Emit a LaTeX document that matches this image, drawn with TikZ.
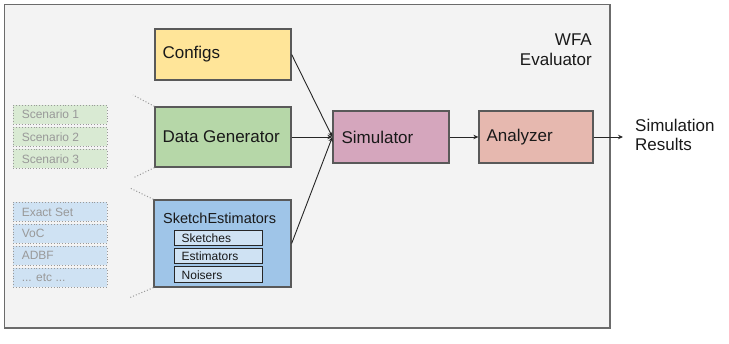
\documentclass[tikz,border=0pt]{standalone}
\usepackage{fontspec}
\setmainfont{Liberation Sans}
\usetikzlibrary{arrows.meta}
\definecolor{panelbg}{HTML}{F3F3F3}
\definecolor{framecol}{HTML}{6B6B6B}
\definecolor{boxline}{HTML}{595959}
\definecolor{cfgfill}{HTML}{FFE599}
\definecolor{genfill}{HTML}{B6D7A8}
\definecolor{skfill}{HTML}{9FC5E8}
\definecolor{simfill}{HTML}{D5A6BD}
\definecolor{anafill}{HTML}{E6B8AF}
\definecolor{scenfill}{HTML}{D9EAD3}
\definecolor{algfill}{HTML}{CFE2F3}
\definecolor{fadetext}{HTML}{999999}
\definecolor{dotcol}{HTML}{999999}
\tikzset{
  mainbox/.style={draw=boxline, line width=1.3pt, rectangle, inner sep=0pt},
  subbox/.style={draw=black!85, line width=1pt, fill=algfill, rectangle, inner sep=0pt,
                 minimum width=88pt},
  optbox/.style={draw=dotcol, dotted, line width=0.9pt, rectangle, inner sep=0pt,
                 minimum width=94pt, minimum height=19pt},
  biglabel/.style={font=\fontsize{17}{19.5}\selectfont, text=black!90, inner sep=0pt},
  midlabel/.style={font=\fontsize{14.5}{17}\selectfont, text=black!90, inner sep=0pt},
  smalllabel/.style={font=\fontsize{12}{14}\selectfont, text=black!90, inner sep=0pt},
  fadelabel/.style={font=\fontsize{12}{14}\selectfont, text=fadetext, inner sep=0pt},
  flow/.style={draw=black!85, line width=0.9pt, -{Stealth[length=5pt,width=4.5pt]}},
  hint/.style={draw=dotcol, dotted, line width=1pt},
}
\begin{document}
\begin{tikzpicture}[x=1pt,y=-1pt]
\useasboundingbox (0,0) rectangle (729,344);

% evaluator panel
\draw[framecol, line width=1.5pt, fill=panelbg] (4.5,4.5) rectangle (610,328);
\node[biglabel, align=right, anchor=east] (wfa) at (592,49.5) {WFA\\Evaluator};

% main components
\node[mainbox, fill=cfgfill, minimum width=136pt, minimum height=51pt] (cfg) at (223,54.5) {};
\node[biglabel, anchor=west] (cfgt) at ([xshift=8pt]cfg.west) {Configs};

\node[mainbox, fill=genfill, minimum width=136pt, minimum height=60pt] (gen) at (223,137) {};
\node[biglabel, anchor=west] (gent) at ([xshift=8pt]gen.west) {Data Generator};

\node[mainbox, fill=skfill, minimum width=137pt, minimum height=87pt] (sk) at (222.5,243.5) {};
\node[midlabel, anchor=west] (skt) at (163,218) {SketchEstimators};
\node[subbox, minimum height=15pt] (sketches) at (218,238.5) {};
\node[smalllabel, anchor=west] (sketchest) at ([xshift=8pt]sketches.west) {Sketches};
\node[subbox, minimum height=15pt] (estim) at (218,256.5) {};
\node[smalllabel, anchor=west] (estimt) at ([xshift=8pt]estim.west) {Estimators};
\node[subbox, minimum height=16pt] (noise) at (218,275) {};
\node[smalllabel, anchor=west] (noiset) at ([xshift=8pt]noise.west) {Noisers};

\node[mainbox, fill=simfill, minimum width=116pt, minimum height=52pt] (sim) at (391,137) {};
\node[biglabel, anchor=west] (simt) at ([xshift=9pt]sim.west) {Simulator};

\node[mainbox, fill=anafill, minimum width=114pt, minimum height=52pt] (ana) at (536,137) {};
\node[biglabel, anchor=west] (anat) at ([xshift=8pt]ana.west) {Analyzer};

\node[biglabel, align=left, anchor=west] (res) at (635,135) {Simulation\\Results};
\coordinate (resin) at (623,137);

% scenario options
\node[optbox, fill=scenfill] (sc1) at (60,114.5) {};
\node[fadelabel, anchor=west] (sc1t) at ([xshift=9pt]sc1.west) {Scenario 1};
\node[optbox, fill=scenfill] (sc2) at (60,137) {};
\node[fadelabel, anchor=west] (sc2t) at ([xshift=9pt]sc2.west) {Scenario 2};
\node[optbox, fill=scenfill] (sc3) at (60,159) {};
\node[fadelabel, anchor=west] (sc3t) at ([xshift=9pt]sc3.west) {Scenario 3};

% estimator options
\node[optbox, fill=algfill] (al1) at (60,212) {};
\node[fadelabel, anchor=west] (al1t) at ([xshift=9pt]al1.west) {Exact Set};
\node[optbox, fill=algfill] (al2) at (60,233.5) {};
\node[fadelabel, anchor=west] (al2t) at ([xshift=9pt]al2.west) {VoC};
\node[optbox, fill=algfill] (al3) at (60,255.5) {};
\node[fadelabel, anchor=west] (al3t) at ([xshift=9pt]al3.west) {ADBF};
\node[optbox, fill=algfill] (al4) at (60,277.5) {};
\node[fadelabel, anchor=west] (al4t) at ([xshift=9pt]al4.west) {... etc ...};

% dotted callout hints
\coordinate (h1) at (133,95);
\coordinate (h2) at (133,178);
\coordinate (h3) at (130,188);
\coordinate (h4) at (129,298);
\draw[hint] (gen.north west) -- (h1);
\draw[hint] (gen.south west) -- (h2);
\draw[hint] (sk.north west) -- (h3);
\draw[hint] (sk.south west) -- (h4);

% data flow
\draw[flow] (cfg.east) -- (sim.west);
\draw[flow] (gen.east) -- (sim.west);
\draw[flow] (sk.east) -- (sim.west);
\draw[flow] (sim.east) -- (ana.west);
\draw[flow] (ana.east) -- (resin);
\end{tikzpicture}
\end{document}
